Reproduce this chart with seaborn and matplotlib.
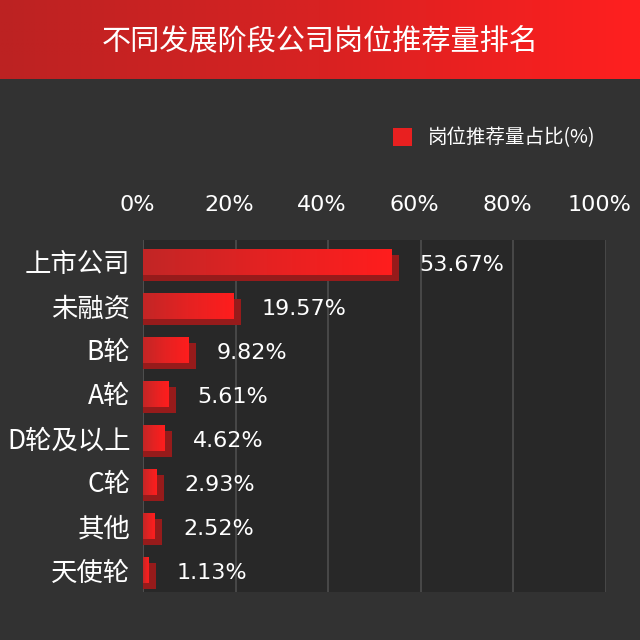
import numpy as np
import pandas as pd
import matplotlib
matplotlib.use("Agg")
import matplotlib.pyplot as plt
import seaborn as sns
from matplotlib.colors import LinearSegmentedColormap
from matplotlib.transforms import ScaledTranslation

# ---- data ----
categories = ["上市公司", "未融资", "B轮", "A轮", "D轮及以上", "C轮", "其他", "天使轮"]
values = [53.67, 19.57, 9.82, 5.61, 4.62, 2.93, 2.52, 1.13]
value_labels = ["53.67%", "19.57%", "9.82%", "5.61%", "4.62%", "2.93%", "2.52%", "1.13%"]
xticks = [0, 20, 40, 60, 80, 100]
xtick_labels = ["0%", "20%", "40%", "60%", "80%", "100%"]
title = "不同发展阶段公司岗位推荐量排名"
legend_label = "岗位推荐量占比(%)"

sns.set_theme(style="dark")
CJK = ["Noto Sans CJK SC", "DejaVu Sans"]
plt.rcParams["font.family"] = CJK

BG = "#323232"
PLOT_BG = "#282828"

fig = plt.figure(figsize=(6.4, 6.4), dpi=100, facecolor=BG)

# ---- title bar ----
tax = fig.add_axes([0, 1 - 79 / 640, 1, 79 / 640])
title_cmap = LinearSegmentedColormap.from_list("t", ["#bc2222", "#d82222", "#ff1f1f"])
tax.imshow(np.linspace(0, 1, 256).reshape(1, -1), aspect="auto", cmap=title_cmap,
           extent=[0, 1, 0, 1])
tax.set_xlim(0, 1)
tax.set_ylim(0, 1)
tax.axis("off")
fig.text(0.5, 1 - 41 / 640, title, color="white", fontsize=21, ha="center", va="center",
         family=CJK)

# ---- main axes ----
ax = fig.add_axes([143 / 640, 48 / 640, 463 / 640, 352 / 640])
ax.set_facecolor(PLOT_BG)

df = pd.DataFrame({"cat": categories, "val": values})
n = len(categories)
bar_h = 0.59
dy = 0.13   # 3D depth downward (category units)
dx = 1.6    # 3D depth to the right (data units)

# side/bottom face (dark) of the 3D bars
ax.barh(np.arange(n) + dy, np.array(values) + dx, height=bar_h, color="#961b1b",
        edgecolor="none", linewidth=0, zorder=2)

sns.barplot(data=df, x="val", y="cat", orient="h", color="#e82020", width=bar_h,
            ax=ax, zorder=3, saturation=1, label=legend_label,
            edgecolor="none", linewidth=0)

# gradient on the front faces
bar_cmap = LinearSegmentedColormap.from_list("b", ["#c22626", "#e52222", "#ff1d1d"])
grad = np.linspace(0, 1, 256).reshape(1, -1)
for p in list(ax.patches):
    if p.get_zorder() != 3:
        continue
    x0, y0 = p.get_x(), p.get_y()
    w, h = p.get_width(), p.get_height()
    im = ax.imshow(grad, aspect="auto", cmap=bar_cmap, extent=[x0, x0 + w, y0 + h, y0],
                   zorder=4, interpolation="bilinear")
    im.set_clip_path(p)

# value labels
for i, (v, lab) in enumerate(zip(values, value_labels)):
    ax.annotate(lab, xy=(v + dx, i), xytext=(15, -2), textcoords="offset points",
                ha="left", va="center", color="white", fontsize=16, family="DejaVu Sans",
                zorder=6)

ax.set_xlim(0, 100)
ax.set_ylim(n - 0.5, -0.5)
ax.set_xticks(xticks)
ax.set_xticklabels(xtick_labels)
ax.xaxis.tick_top()
ax.tick_params(axis="x", length=0, pad=18, labelsize=16, colors="white")
for t in ax.get_xticklabels():
    t.set_family("DejaVu Sans")
    t.set_transform(t.get_transform() + ScaledTranslation(-6 / 100, 0, fig.dpi_scale_trans))
ax.tick_params(axis="y", length=0, pad=9, labelsize=19, colors="white")
for t in ax.get_yticklabels():
    t.set_family(CJK)
ax.set_xlabel("")
ax.set_ylabel("")
ax.grid(axis="x", color="#4e4e4e", linewidth=1.2, zorder=1)
ax.grid(axis="y", visible=False)
ax.set_axisbelow(True)
for s in ax.spines.values():
    s.set_visible(False)
ax.axvline(0, color="#505050", linewidth=1.2, zorder=1)

# legend
leg = ax.legend(loc="center left", bbox_to_anchor=(375 / 640, 1 - 138 / 640),
                bbox_transform=fig.transFigure, frameon=False,
                handlelength=1.0, handleheight=1.0, handletextpad=0.8,
                labelcolor="white", prop={"family": CJK, "size": 14})

fig.savefig("out.png", dpi=100, facecolor=BG)
